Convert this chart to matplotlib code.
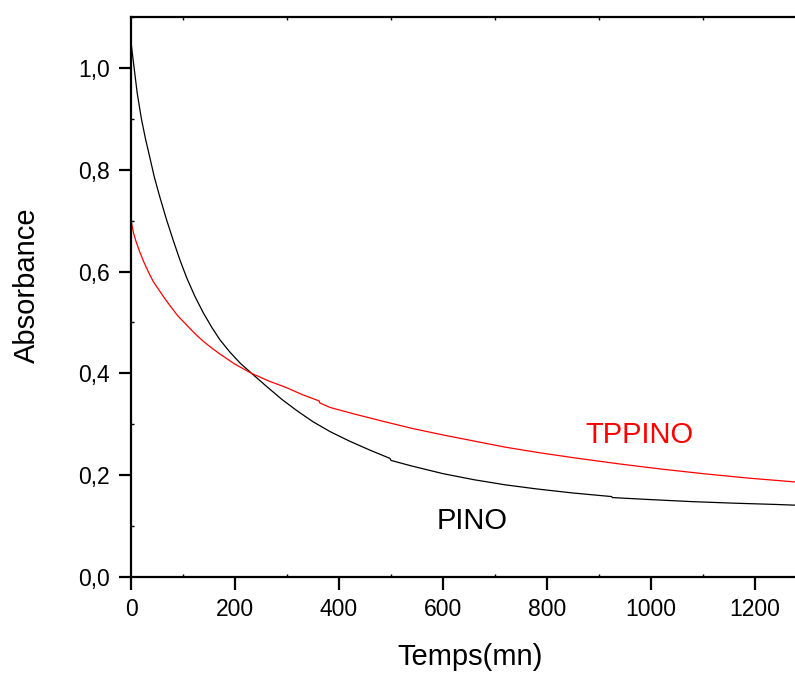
import matplotlib
matplotlib.use("Agg")
import matplotlib.pyplot as plt
from matplotlib.ticker import MultipleLocator, FuncFormatter

plt.rcParams['font.family'] = ['Liberation Sans', 'DejaVu Sans']

# PINO (black)
t_pino = [0, 3, 6, 12, 20, 28, 36, 45, 55, 68, 81, 94, 107, 123, 139, 155, 171,
          190, 210, 232, 260, 290, 320, 350, 383, 420, 460, 498, 500, 540, 600,
          660, 720, 780, 850, 924, 926, 1000, 1080, 1160, 1240, 1280]
a_pino = [1.051, 1.025, 1.00, 0.95, 0.90, 0.86, 0.825, 0.785, 0.748, 0.703,
          0.662, 0.623, 0.588, 0.551, 0.519, 0.491, 0.466, 0.442, 0.42, 0.40,
          0.375, 0.349, 0.326, 0.305, 0.2855, 0.267, 0.249, 0.233, 0.229,
          0.218, 0.203, 0.191, 0.181, 0.173, 0.165, 0.158, 0.156, 0.152,
          0.148, 0.145, 0.1425, 0.141]

# TPPINO (red)
t_tppino = [0, 2, 5, 10, 17, 25, 34, 43, 55, 65, 75, 90, 107, 123, 139, 155,
            171, 200, 232, 265, 299, 330, 362, 363, 383, 430, 480, 540, 600,
            660, 720, 786, 860, 940, 1020, 1100, 1190, 1280]
a_tppino = [0.705, 0.69, 0.675, 0.658, 0.638, 0.618, 0.598, 0.580, 0.562,
            0.547, 0.533, 0.513, 0.495, 0.478, 0.463, 0.450, 0.438, 0.418,
            0.400, 0.385, 0.372, 0.358, 0.3458, 0.342, 0.333, 0.320, 0.307,
            0.292, 0.279, 0.267, 0.255, 0.244, 0.233, 0.222, 0.212, 0.203,
            0.194, 0.1865]

W, H = 795, 673
fig = plt.figure(figsize=(W / 100, H / 100), dpi=100)
ax = fig.add_axes([131 / W, 96 / H, (W - 131) / W, (656 - 96) / H])

ax.plot(t_pino, a_pino, color='black', lw=0.9)
ax.plot(t_tppino, a_tppino, color='red', lw=0.9)

ax.set_xlim(0, (W - 131) / 0.52)
ax.set_ylim(0, 1.1)

ax.spines['right'].set_visible(False)
for s in ['left', 'bottom', 'top']:
    ax.spines[s].set_linewidth(1.6)

ax.xaxis.set_major_locator(MultipleLocator(200))
ax.xaxis.set_minor_locator(MultipleLocator(100))
ax.yaxis.set_major_locator(MultipleLocator(0.2))
ax.yaxis.set_minor_locator(MultipleLocator(0.1))
ax.yaxis.set_major_formatter(FuncFormatter(lambda v, p: f"{v:.1f}".replace('.', ',')))

ax.tick_params(axis='both', which='major', direction='out', length=9, width=1.6,
               labelsize=16.5, pad=6)
ax.tick_params(axis='both', which='minor', direction='in', length=2.5, width=1.0)
ax.tick_params(axis='x', which='both', top=True)
ax.tick_params(axis='x', which='major', top=False)

fig.text(470 / W, (H - 643) / H, 'Temps(mn)', ha='center', va='top', fontsize=21)
fig.text(27 / W, (H - 285) / H, 'Absorbance', ha='center', va='center',
         rotation=90, fontsize=21)

ax.text(873, 0.279, 'TPPINO', color='red', fontsize=21, ha='left', va='center')
ax.text(588, 0.11, 'PINO', color='black', fontsize=21, ha='left', va='center')

fig.savefig('out.png', dpi=100)
